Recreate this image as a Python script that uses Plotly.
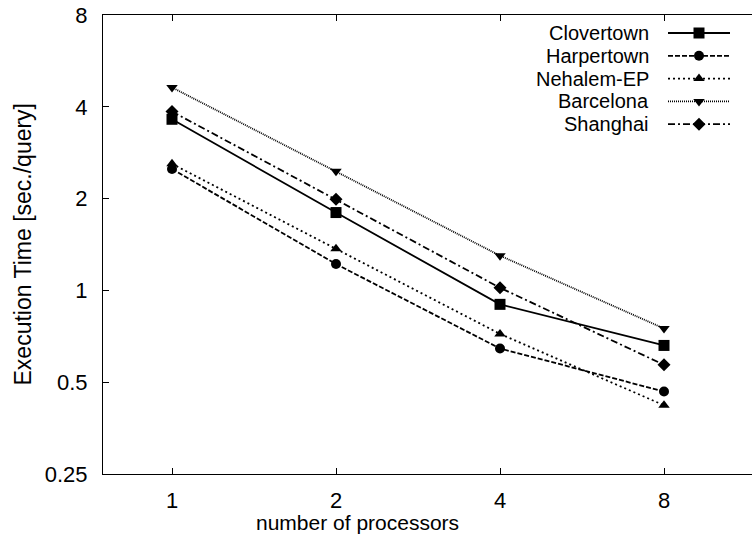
import plotly.graph_objects as go
import math

processors = [1, 2, 4, 8]
series_names = ["Clovertown", "Harpertown", "Nehalem-EP", "Barcelona", "Shanghai"]
clovertown = [3.64, 1.80, 0.90, 0.66]
harpertown = [2.50, 1.22, 0.645, 0.466]
nehalem = [2.60, 1.37, 0.72, 0.42]
barcelona = [4.63, 2.46, 1.30, 0.75]
shanghai = [3.86, 1.99, 1.02, 0.57]
y_ticks = [0.25, 0.5, 1, 2, 4, 8]
x_ticks = [1, 2, 4, 8]
x_title = "number of processors"
y_title = "Execution Time [sec./query]"

values = [clovertown, harpertown, nehalem, barcelona, shanghai]
dashes = ["solid", "5px,2px", "2px,3px", "1px,1px", "7px,3px,2px,3px"]
symbols = ["square", "circle", "triangle-up", "triangle-down", "diamond"]
msizes = [11, 10, 10, 10, 10]

FONT = "Liberation Sans, Arial, sans-serif"
FS = 22
FS_KEY = 20
FS_XTITLE = 21
FS_YTITLE = 23
fig = go.Figure()

for name, vals, d, s, ms in zip(series_names, values, dashes, symbols, msizes):
    fig.add_trace(go.Scatter(
        x=processors, y=vals, mode="lines+markers", name=name,
        line=dict(color="black", width=1.8, dash=d),
        marker=dict(symbol=s, size=ms, color="black"),
        showlegend=False,
    ))

L_MARGIN, T_MARGIN, B_MARGIN = 103, 15, 65
W, H = 752, 539
PW, PH = W - L_MARGIN, H - B_MARGIN - T_MARGIN

# custom gnuplot-style key (text right-aligned, sample to the right)
key_text_x = 650
key_x0, key_x1, key_xm = 668, 730, 699
key_y0, key_dy = 33, 22.8
annotations = []
for i, (name, d, s, ms) in enumerate(zip(series_names, dashes, symbols, msizes)):
    yy = key_y0 + i * key_dy
    fig.add_trace(go.Scatter(
        x=[key_x0, key_x1], y=[yy, yy], mode="lines",
        line=dict(color="black", width=1.8, dash=d),
        xaxis="x2", yaxis="y2", showlegend=False, hoverinfo="skip"))
    fig.add_trace(go.Scatter(
        x=[key_xm], y=[yy], mode="markers",
        marker=dict(symbol=s, size=ms, color="black"),
        xaxis="x2", yaxis="y2", showlegend=False, hoverinfo="skip"))
    annotations.append(dict(
        x=key_text_x, y=yy, xref="x2", yref="y2", text=name, showarrow=False,
        xanchor="right", yanchor="middle", borderpad=0,
        font=dict(family=FONT, size=FS_KEY, color="black")))

# axis titles (placed like the gnuplot original)
annotations.append(dict(
    x=(357 - L_MARGIN) / PW, y=-(522 - (H - B_MARGIN)) / PH, xref="paper", yref="paper",
    text=x_title, showarrow=False, xanchor="center", yanchor="middle",
    font=dict(family=FONT, size=FS_XTITLE, color="black")))
annotations.append(dict(
    x=(22 - L_MARGIN) / PW, y=0.5, xref="paper", yref="paper",
    text=y_title, showarrow=False, xanchor="center", yanchor="middle", textangle=-90,
    font=dict(family=FONT, size=FS_YTITLE, color="black")))

fig.update_layout(
    width=W, height=H,
    margin=dict(l=L_MARGIN, r=0, t=T_MARGIN, b=B_MARGIN),
    paper_bgcolor="white", plot_bgcolor="white",
    font=dict(family=FONT, size=FS, color="black"),
    xaxis=dict(
        type="log", range=[math.log10(2 ** -0.4207), math.log10(2 ** 3.5366)],
        tickvals=x_ticks, ticktext=[str(v) for v in x_ticks],
        tickfont=dict(family=FONT, size=FS, color="black"),
        ticks="inside", ticklen=6, tickcolor="black", ticklabelstandoff=6,
        showline=True, linecolor="black", linewidth=1.2, mirror="ticks",
        showgrid=False, zeroline=False,
    ),
    yaxis=dict(
        type="log", range=[math.log10(0.25), math.log10(8)],
        tickvals=y_ticks, ticktext=[str(v) for v in y_ticks],
        tickfont=dict(family=FONT, size=FS, color="black"),
        ticks="inside", ticklen=6, tickcolor="black", ticklabelstandoff=10,
        showline=True, linecolor="black", linewidth=1.2,
        showgrid=False, zeroline=False,
    ),
    xaxis2=dict(overlaying="x", range=[L_MARGIN, W], visible=False, fixedrange=True),
    yaxis2=dict(overlaying="y", range=[H - B_MARGIN, T_MARGIN], visible=False, fixedrange=True),
    annotations=annotations,
    showlegend=False,
)

fig.write_html("out.html")
